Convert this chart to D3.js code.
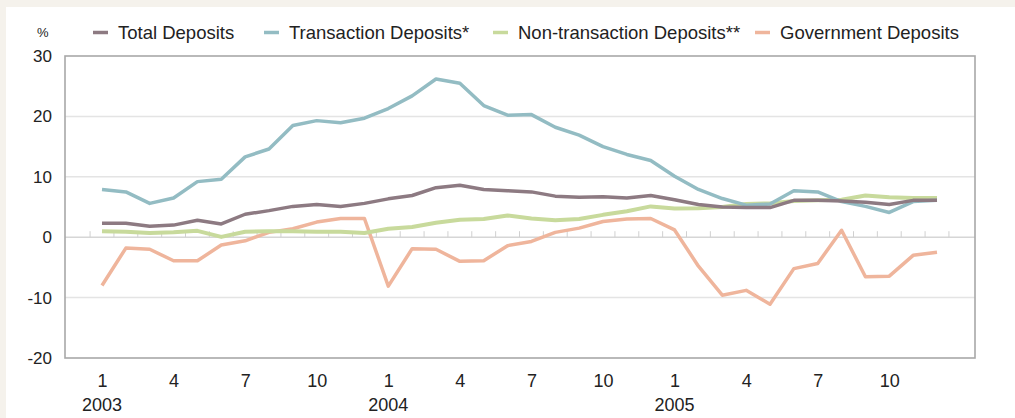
<!DOCTYPE html>
<html>
<head>
<meta charset="utf-8">
<script src="https://cdn.jsdelivr.net/npm/d3@7"></script>
<style>
  html, body { margin: 0; padding: 0; background: #f5f2ec; }
  svg { display: block; }
  text { font-family: "Liberation Sans", Arial, sans-serif; fill: #222; }
</style>
</head>
<body>
<svg id="chart" width="1015" height="418"></svg>
<script>
// Monthly periods, January 2003 to December 2005
const periods = [
  "2003-01","2003-02","2003-03","2003-04","2003-05","2003-06",
  "2003-07","2003-08","2003-09","2003-10","2003-11","2003-12",
  "2004-01","2004-02","2004-03","2004-04","2004-05","2004-06",
  "2004-07","2004-08","2004-09","2004-10","2004-11","2004-12",
  "2005-01","2005-02","2005-03","2005-04","2005-05","2005-06",
  "2005-07","2005-08","2005-09","2005-10","2005-11","2005-12"
];

// Year-on-year growth, %
const totalDeposits = [2.3, 2.3, 1.8, 2.0, 2.8, 2.2, 3.8, 4.4, 5.1, 5.4, 5.1, 5.6,
                       6.35, 6.9, 8.2, 8.6, 7.9, 7.7, 7.5, 6.8, 6.6, 6.7, 6.5, 6.9,
                       6.2, 5.4, 5.0, 4.9, 4.9, 6.1, 6.1, 6.0, 5.8, 5.4, 6.1, 6.1];
const transactionDeposits = [7.9, 7.5, 5.6, 6.5, 9.2, 9.6, 13.3, 14.6, 18.5, 19.3, 18.95, 19.7,
                             21.3, 23.4, 26.2, 25.5, 21.8, 20.2, 20.3, 18.2, 16.9, 15.0, 13.7, 12.7,
                             10.1, 7.9, 6.4, 5.3, 5.5, 7.7, 7.5, 5.9, 5.1, 4.1, 5.9, 6.1];
const nonTransactionDeposits = [1.0, 0.9, 0.7, 0.8, 1.05, 0.05, 0.9, 1.0, 1.0, 0.9, 0.9, 0.7,
                                1.4, 1.7, 2.4, 2.9, 3.0, 3.6, 3.1, 2.8, 3.0, 3.7, 4.3, 5.1,
                                4.75, 4.8, 5.0, 5.5, 5.6, 6.0, 6.1, 6.2, 6.9, 6.6, 6.5, 6.5];
const governmentDeposits = [-8.0, -1.8, -2.0, -3.9, -3.9, -1.3, -0.6, 0.8, 1.4, 2.5, 3.1, 3.1,
                            -8.1, -1.9, -2.0, -4.0, -3.9, -1.4, -0.7, 0.8, 1.5, 2.6, 3.0, 3.1,
                            1.2, -4.8, -9.6, -8.8, -11.1, -5.2, -4.35, 1.15, -6.55, -6.45, -3.0, -2.5];

const seriesNames = ["Total Deposits", "Transaction Deposits*", "Non-transaction Deposits**", "Government Deposits"];

// Axis labels
const yTicks = [-20, -10, 0, 10, 20, 30];
const monthTickLabels = ["1", "4", "7", "10"];
const yearLabels = ["2003", "2004", "2005"];

const colors = ["#8d7a82", "#93bcc3", "#c8da9c", "#efb59c"];
const seriesValues = [totalDeposits, transactionDeposits, nonTransactionDeposits, governmentDeposits];

const svg = d3.select("#chart");

// white panel on the beige page
svg.append("rect").attr("x", 6).attr("y", 7).attr("width", 1015).attr("height", 420).attr("fill", "#fff");

const box = { left: 65, right: 975, top: 56, bottom: 358 };

const x = d3.scalePoint().domain(periods).range([102, 937]);
const step = x.step();
const y = d3.scaleLinear().domain([-20, 30]).range([box.bottom, box.top]);

// horizontal gridlines
svg.append("g")
  .selectAll("line")
  .data(yTicks.filter(v => v > -20 && v < 30))
  .join("line")
  .attr("x1", box.left).attr("x2", box.right)
  .attr("y1", d => y(d)).attr("y2", d => y(d))
  .attr("stroke", d => d === 0 ? "#d6d6d6" : "#e4e4e4")
  .attr("stroke-width", 1.5);

// month separators on the zero line
svg.append("g")
  .selectAll("line")
  .data(periods.concat(["end"]))
  .join("line")
  .attr("x1", (d, i) => x(periods[0]) + (i - 0.5) * step)
  .attr("x2", (d, i) => x(periods[0]) + (i - 0.5) * step)
  .attr("y1", y(0) - 6).attr("y2", y(0))
  .attr("stroke", "#d0d0d0").attr("stroke-width", 1);

// plot frame
svg.append("rect")
  .attr("x", box.left).attr("y", box.top)
  .attr("width", box.right - box.left).attr("height", box.bottom - box.top)
  .attr("fill", "none").attr("stroke", "#a8a8a8").attr("stroke-width", 1.6);

// y axis
const yAxis = svg.append("g")
  .attr("transform", `translate(${box.left},0)`)
  .call(d3.axisLeft(y).tickValues(yTicks).tickSize(0).tickPadding(13).tickFormat(d => String(d)));
yAxis.select(".domain").remove();
yAxis.selectAll("text").attr("font-size", 17).attr("font-family", "Liberation Sans, Arial, sans-serif").attr("fill", "#222");

// x axis: month numbers
const monthTicks = periods.filter(p => monthTickLabels.includes(String(+p.slice(5))));
const xAxis = svg.append("g")
  .attr("transform", `translate(0,${box.bottom})`)
  .call(d3.axisBottom(x).tickValues(monthTicks).tickSize(0).tickPadding(16).tickFormat(p => String(+p.slice(5))));
xAxis.select(".domain").remove();
xAxis.selectAll("text").attr("font-size", 18).attr("font-family", "Liberation Sans, Arial, sans-serif").attr("fill", "#222");

// year labels under January
svg.append("g")
  .selectAll("text")
  .data(yearLabels)
  .join("text")
  .attr("x", d => x(d + "-01"))
  .attr("y", 411)
  .attr("text-anchor", "middle")
  .attr("font-size", 18)
  .text(d => d);

// series lines
const line = d3.line()
  .x((d, i) => x(periods[i]))
  .y(d => y(d));

const drawOrder = [3, 2, 1, 0];
svg.append("g")
  .selectAll("path")
  .data(drawOrder)
  .join("path")
  .attr("d", k => line(seriesValues[k]))
  .attr("fill", "none")
  .attr("stroke", k => colors[k])
  .attr("stroke-width", k => k === 2 ? 4 : 3.5)
  .attr("stroke-linejoin", "round");

// unit label
svg.append("text").attr("x", 37).attr("y", 37).attr("font-size", 13).text("%");

// legend
const legendX = [118, 289, 518, 780];
const legend = svg.append("g")
  .selectAll("g")
  .data(seriesNames)
  .join("g")
  .attr("transform", (d, i) => `translate(${legendX[i]},0)`);
legend.append("line")
  .attr("x1", -25).attr("x2", -10)
  .attr("y1", 32.5).attr("y2", 32.5)
  .attr("stroke", (d, i) => colors[i])
  .attr("stroke-width", 3.5);
legend.append("text")
  .attr("x", 0).attr("y", 38.5)
  .attr("font-size", 18.5)
  .text(d => d);
</script>
</body>
</html>
